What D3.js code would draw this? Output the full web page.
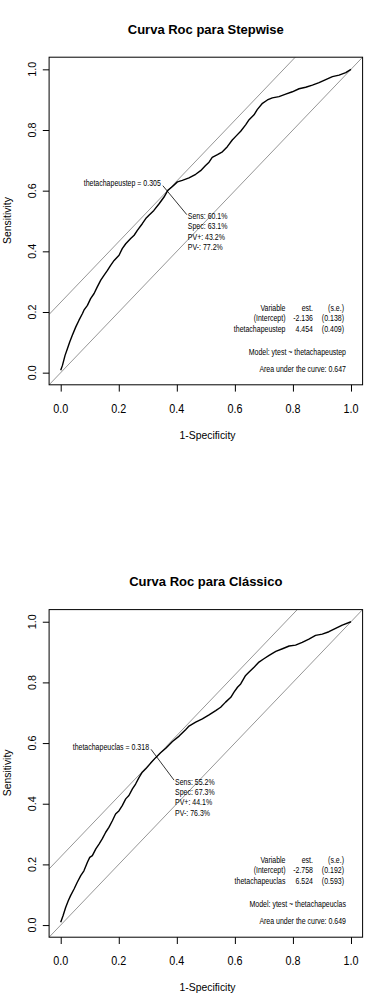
<!DOCTYPE html>
<html><head><meta charset="utf-8">
<script src="https://cdn.jsdelivr.net/npm/d3@7"></script>
<style>body{margin:0;background:#fff} svg{display:block} text{font-family:"Liberation Sans",Arial,sans-serif}</style>
</head><body><svg id="c" width="387" height="1008"></svg>
<script>
// ---------- data ----------
const tickValues = [0, 0.2, 0.4, 0.6, 0.8, 1.0];
const tickLabels = ["0.0", "0.2", "0.4", "0.6", "0.8", "1.0"];
const titles = ["Curva Roc para Stepwise", "Curva Roc para Clássico"];
const xTitle = "1-Specificity";
const yTitle = "Sensitivity";

const stepFpr = [0,0.006,0.015,0.023,0.031,0.040,0.052,0.063,0.075,0.080,0.092,0.103,0.115,0.126,0.138,0.149,0.161,0.172,0.184,0.201,0.212,0.224,0.241,0.253,0.264,0.281,0.293,0.304,0.321,0.339,0.356,0.369,0.385,0.402,0.419,0.442,0.465,0.482,0.499,0.511,0.522,0.540,0.557,0.574,0.591,0.603,0.620,0.637,0.649,0.666,0.677,0.695,0.712,0.729,0.752,0.775,0.798,0.821,0.844,0.867,0.890,0.913,0.936,0.959,0.982,1.0];
const stepTpr = [0.008,0.024,0.057,0.079,0.101,0.123,0.151,0.173,0.195,0.206,0.222,0.244,0.261,0.283,0.305,0.321,0.337,0.354,0.370,0.387,0.409,0.425,0.442,0.453,0.469,0.491,0.508,0.519,0.535,0.557,0.579,0.601,0.614,0.629,0.634,0.642,0.654,0.666,0.683,0.694,0.710,0.719,0.728,0.745,0.767,0.779,0.796,0.817,0.834,0.850,0.867,0.888,0.899,0.906,0.910,0.918,0.926,0.936,0.941,0.948,0.956,0.966,0.976,0.981,0.989,1.0];

const clasFpr = [0,0.008,0.017,0.026,0.034,0.046,0.057,0.069,0.080,0.092,0.100,0.109,0.121,0.132,0.143,0.155,0.166,0.178,0.189,0.201,0.212,0.224,0.235,0.247,0.258,0.270,0.281,0.293,0.310,0.327,0.344,0.362,0.385,0.408,0.431,0.442,0.465,0.488,0.511,0.534,0.551,0.568,0.586,0.597,0.609,0.620,0.637,0.649,0.666,0.683,0.700,0.718,0.741,0.764,0.787,0.809,0.832,0.855,0.878,0.901,0.924,0.947,0.970,1.0];
const clasTpr = [0.009,0.031,0.058,0.080,0.097,0.119,0.141,0.163,0.179,0.207,0.223,0.229,0.251,0.267,0.284,0.306,0.322,0.344,0.366,0.377,0.394,0.416,0.427,0.449,0.465,0.487,0.504,0.515,0.534,0.552,0.568,0.583,0.605,0.623,0.645,0.656,0.669,0.680,0.693,0.707,0.718,0.735,0.751,0.768,0.784,0.795,0.823,0.834,0.850,0.867,0.878,0.889,0.902,0.911,0.920,0.923,0.932,0.943,0.955,0.959,0.967,0.978,0.989,1.0];

const cutFpr = [0.369, 0.327];
const cutTpr = [0.601, 0.552];
const cutLabels = ["thetachapeustep = 0.305", "thetachapeuclas = 0.318"];
const statLines = [["Sens: 60.1%","Spec: 63.1%","PV+: 43.2%","PV-: 77.2%"],
                   ["Sens: 55.2%","Spec: 67.3%","PV+: 44.1%","PV-: 76.3%"]];
const tableHeader = ["Variable", "est.", "(s.e.)"];
const tableRows = [
  [["(Intercept)","-2.136","(0.138)"],["thetachapeustep","4.454","(0.409)"]],
  [["(Intercept)","-2.758","(0.192)"],["thetachapeuclas","6.524","(0.593)"]]
];
const models = ["Model: ytest ~ thetachapeustep", "Model: ytest ~ thetachapeuclas"];
const aucs = ["Area under the curve: 0.647", "Area under the curve: 0.649"];

// ---------- layout ----------
const panelOffset = [0, 552.4];
const curves = [[stepFpr, stepTpr], [clasFpr, clasTpr]];
const labelDx = [-7, -6.6], labelDy = [-4.2, -7.8];
const statDx = [20, 19.4], statDy = [28.8, 27];

const svg = d3.select("#c");
const x = d3.scaleLinear().domain([-0.04, 1.04]).range([49.1, 362.6]);
const y = d3.scaleLinear().domain([-0.04, 1.04]).range([384.8, 57.2]);

svg.append("defs").append("clipPath").attr("id","clip")
  .append("rect").attr("x", x(-0.04)).attr("y", y(1.04))
  .attr("width", x(1.04)-x(-0.04)).attr("height", y(-0.04)-y(1.04));

function txt(g, tx, ty, s, o = {}) {
  let tr = `translate(${tx},${ty})`;
  if (o.sy) tr += ` scale(1,${o.sy})`;
  if (o.rot) tr += ` rotate(-90)`;
  g.append("g").attr("transform", tr).append("text")
    .attr("text-anchor", o.anchor || "start")
    .attr("font-size", o.size || 7)
    .attr("font-weight", o.weight || "normal")
    .attr("fill", "#000").text(s);
}

titles.forEach((title, i) => {
  const g = svg.append("g").attr("transform", `translate(0,${panelOffset[i]})`);

  // title
  txt(g, 205.8, 34, title, {size: 13, weight: "bold", anchor: "middle"});

  // reference lines
  const lines = g.append("g").attr("clip-path", "url(#clip)")
    .attr("stroke", "#8a8a8a").attr("stroke-width", 0.9).attr("fill", "none");
  lines.append("line").attr("x1", x(-0.04)).attr("y1", y(-0.04)).attr("x2", x(1.04)).attr("y2", y(1.04));
  const c = cutTpr[i] - cutFpr[i];
  lines.append("line").attr("x1", x(-0.04)).attr("y1", y(-0.04 + c)).attr("x2", x(1.04 - c)).attr("y2", y(1.04));

  // ROC curve
  const [fx, ty] = curves[i];
  const pts = fx.map((v, k) => [v, ty[k]]);
  g.append("path").datum(pts)
    .attr("d", d3.line().x(d => x(d[0])).y(d => y(d[1])))
    .attr("fill", "none").attr("stroke", "#000").attr("stroke-width", 1.4)
    .attr("stroke-linejoin", "round");

  // box
  g.append("rect").attr("x", x(-0.04)).attr("y", y(1.04))
    .attr("width", x(1.04)-x(-0.04)).attr("height", y(-0.04)-y(1.04))
    .attr("fill", "none").attr("stroke", "#000").attr("stroke-width", 1);

  // axes
  const xa = g.append("g").attr("transform", `translate(0,${y(-0.04)})`)
    .call(d3.axisBottom(x).tickValues(tickValues).tickSize(6.8).tickFormat(""));
  xa.select(".domain").remove();
  xa.selectAll("line").attr("stroke", "#000");
  const ya = g.append("g").attr("transform", `translate(${x(-0.04)},0)`)
    .call(d3.axisLeft(y).tickValues(tickValues).tickSize(6.3).tickFormat(""));
  ya.select(".domain").remove();
  ya.selectAll("line").attr("stroke", "#000");

  tickValues.forEach((v, k) => {
    txt(g, x(v), 413, tickLabels[k], {size: 10.8, anchor: "middle", sy: 1.15});
    txt(g, 35.7, y(v), tickLabels[k], {size: 10.8, anchor: "middle", rot: true});
  });
  txt(g, 207.5, 439, xTitle, {size: 10.4, anchor: "middle", sy: 1.12});
  txt(g, 11.2, 220.5, yTitle, {size: 10.4, anchor: "middle", rot: true});

  // cut point annotation
  const cx = x(cutFpr[i]), cy = y(cutTpr[i]);
  const lx = cx + labelDx[i], ly = cy + labelDy[i];
  const sx = cx + statDx[i], sy0 = cy + statDy[i];
  txt(g, lx, ly, cutLabels[i], {size: 7, anchor: "end", sy: 1.18});
  g.append("line").attr("x1", lx + 2).attr("y1", ly - 0.5).attr("x2", sx - 1).attr("y2", sy0 - 4.5)
    .attr("stroke", "#000").attr("stroke-width", 0.8);
  statLines[i].forEach((s, k) => txt(g, sx, sy0 + k * 10.3, s, {size: 7, sy: 1.18}));

  // coefficient table
  const colX = [285.5, 313, 344];
  const rows = [tableHeader].concat(tableRows[i]);
  rows.forEach((r, k) => r.forEach((s, j) =>
    txt(g, colX[j], 310.5 + k * 10.5, s, {size: 7, anchor: "end", sy: 1.18})));
  txt(g, 346, 355, models[i], {size: 7, anchor: "end", sy: 1.18});
  txt(g, 346, 372, aucs[i], {size: 7, anchor: "end", sy: 1.18});
});
</script></body></html>
